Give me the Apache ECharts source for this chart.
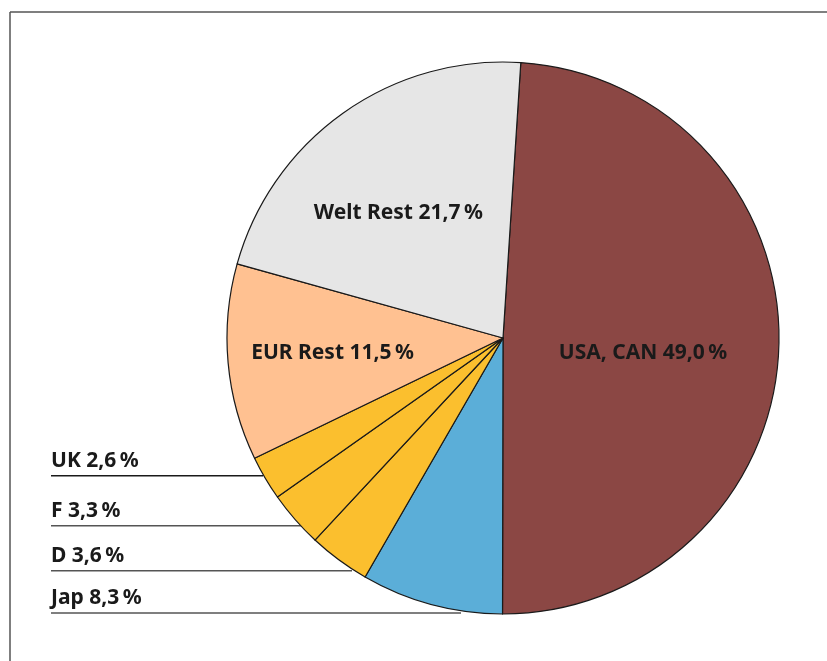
<!DOCTYPE html>
<html>
<head>
<meta charset="utf-8">
<script src="https://cdn.jsdelivr.net/npm/echarts@6/dist/echarts.min.js"></script>
<style>
  html, body { margin: 0; padding: 0; background: #ffffff; }
  #chart { width: 827px; height: 661px; }
</style>
</head>
<body>
<div id="chart"></div>
<script>
// ---- data ----
const categories = ['USA, CAN', 'Jap', 'D', 'F', 'UK', 'EUR Rest', 'Welt Rest'];
const shares = [49.0, 8.3, 3.6, 3.3, 2.6, 11.5, 21.7];
const valueLabels = ['49,0', '8,3', '3,6', '3,3', '2,6', '11,5', '21,7'];

// ---- style / layout ----
const colors = ['#8B4744', '#5BAED8', '#FBBF2E', '#FBBF2E', '#FBBF2E', '#FFC191', '#E6E6E6'];
const outsideItems = ['Jap', 'D', 'F', 'UK'];
// label line: [y of line, x where it meets the pie]
const outsideLine = { 'Jap': [613, 461], 'D': [570.7, 352], 'F': [525.7, 302], 'UK': [475.7, 263] };
const outsideLineColor = { 'Jap': '#555555', 'D': '#555555', 'F': '#555555', 'UK': '#1a1a1a' };
const insidePolar = { 'USA, CAN': [96, 0.51], 'EUR Rest': [265, 0.62], 'Welt Rest': [320, 0.59] };
const CX = 503, CY = 338, R = 276, START_OFFSET = 3.7;
const LEFT_X = 51;
const FONT = '"Noto Sans", "Open Sans", sans-serif';

function polar(angleDeg, rad) {
  const a = angleDeg * Math.PI / 180;
  return [CX + rad * Math.sin(a), CY - rad * Math.cos(a)];
}

const chart = echarts.init(document.getElementById('chart'), null, { renderer: 'canvas' });

const seriesData = categories.map((name, i) => {
  const outside = outsideItems.indexOf(name) >= 0;
  return {
    name: name,
    value: shares[i],
    itemStyle: { color: colors[i] },
    label: { position: outside ? 'outside' : 'inside' },
    labelLine: outside
      ? { show: true, lineStyle: { color: outsideLineColor[name], width: 1.5 } }
      : { show: false }
  };
});

chart.setOption({
  animation: false,
  backgroundColor: '#ffffff',
  graphic: [
    { type: 'line', shape: { x1: 10, y1: 12, x2: 827, y2: 12 }, style: { stroke: '#555555', lineWidth: 1.5 } },
    { type: 'line', shape: { x1: 10, y1: 12, x2: 10, y2: 661 }, style: { stroke: '#555555', lineWidth: 1.5 } }
  ],
  series: [{
    type: 'pie',
    center: [CX, CY],
    radius: [0, R],
    startAngle: 90 - START_OFFSET,
    clockwise: true,
    avoidLabelOverlap: false,
    emphasis: { disabled: true },
    itemStyle: { borderColor: '#1a1a1a', borderWidth: 1.2 },
    label: {
      show: true,
      formatter: p => p.name + ' ' + valueLabels[p.dataIndex] + '\u2009%',
      fontFamily: FONT,
      fontWeight: 'bold',
      fontSize: 21,
      color: '#1a1a1a'
    },
    labelLine: {
      maxSurfaceAngle: 180,
      lineStyle: { color: '#555555', width: 1.5 }
    },
    labelLayout: function (params) {
      const name = categories[params.dataIndex];
      if (outsideItems.indexOf(name) >= 0) {
        const ln = outsideLine[name];
        const y = ln[0], xe = ln[1];
        return {
          x: LEFT_X,
          y: y - 15,
          align: 'left',
          verticalAlign: 'middle',
          labelLinePoints: [[xe, y], [(xe + LEFT_X) / 2, y], [LEFT_X, y]]
        };
      }
      const pp = insidePolar[name];
      const c = polar(pp[0], R * pp[1]);
      return { x: c[0], y: c[1], align: 'center', verticalAlign: 'middle' };
    },
    data: seriesData
  }]
});
</script>
</body>
</html>
